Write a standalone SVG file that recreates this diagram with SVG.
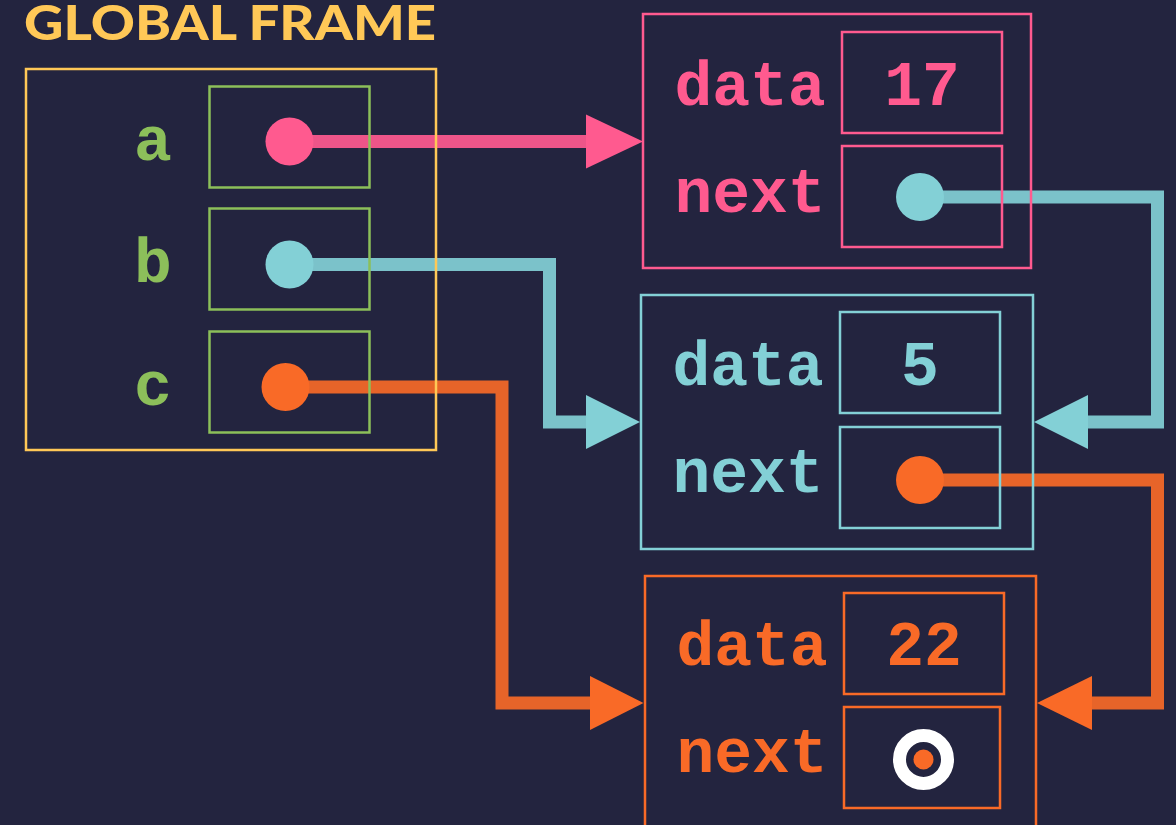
<svg xmlns="http://www.w3.org/2000/svg" width="1176" height="825" viewBox="0 0 1176 825">
<style>
.mono{font-family:"Liberation Mono","Courier New",monospace;font-weight:bold;font-size:63px}
.box{fill:none;stroke-width:2.5}
.wire{fill:none;stroke-width:13;stroke-linejoin:miter;stroke-linecap:butt;opacity:0.92}
</style>
<rect x="0" y="0" width="1176" height="825" fill="#23243F"/>
<g id="connectors">
  <g fill="#FF5A8F" stroke="#FF5A8F">
    <path class="wire" d="M289 141.5 H588"/>
    <polygon points="586,114.5 643,141.5 586,168.5" stroke="none"/>
  </g>
  <g fill="#83D0D6" stroke="#83D0D6">
    <path class="wire" d="M289 264.5 H549.5 V422 H588"/>
    <polygon points="586,395 640,422 586,449" stroke="none"/>
    <path class="wire" d="M920 197 H1157.5 V422 H1086"/>
    <polygon points="1088,395 1034,422 1088,449" stroke="none"/>
  </g>
  <g fill="#F96A27" stroke="#F96A27">
    <path class="wire" d="M285.5 387 H502 V703 H592"/>
    <polygon points="590,676 643.5,703 590,730" stroke="none"/>
    <path class="wire" d="M920 480 H1157.5 V703 H1090"/>
    <polygon points="1092,676 1037,703 1092,730" stroke="none"/>
  </g>
</g>
<g id="global-frame">
  <text x="24" y="40" font-family="Lato,'Open Sans',sans-serif" font-weight="900" font-size="48" fill="#FFC857" textLength="412" lengthAdjust="spacingAndGlyphs">GLOBAL FRAME</text>
  <rect class="box" x="26" y="69" width="410" height="381" stroke="#FFC857"/>
</g>
<g id="var-a">
  <text class="mono" x="153" y="160" text-anchor="middle" fill="#8CBF5A">a</text>
  <rect class="box" x="209.5" y="86.5" width="160" height="101" stroke="#8CBF5A"/>
  <circle cx="289.5" cy="141.5" r="24" fill="#FF5A8F"/>
</g>
<g id="var-b">
  <text class="mono" x="153" y="282" text-anchor="middle" fill="#8CBF5A">b</text>
  <rect class="box" x="209.5" y="208.5" width="160" height="101" stroke="#8CBF5A"/>
  <circle cx="289.5" cy="264.5" r="24" fill="#83D0D6"/>
</g>
<g id="var-c">
  <text class="mono" x="153" y="405" text-anchor="middle" fill="#8CBF5A">c</text>
  <rect class="box" x="209.5" y="331.5" width="160" height="101" stroke="#8CBF5A"/>
  <circle cx="285.5" cy="387" r="24" fill="#F96A27"/>
</g>
<g id="node-17">
  <rect class="box" x="643" y="14" width="388" height="254" stroke="#FF5A8F"/>
  <text class="mono" x="750" y="105" text-anchor="middle" fill="#FF5A8F">data</text>
  <text class="mono" x="750" y="212" text-anchor="middle" fill="#FF5A8F">next</text>
  <rect class="box" x="842" y="32" width="160" height="101" stroke="#FF5A8F"/>
  <text class="mono" x="922" y="105" text-anchor="middle" fill="#FF5A8F">17</text>
  <rect class="box" x="842" y="146" width="160" height="101" stroke="#FF5A8F"/>
  <circle cx="920" cy="197" r="24" fill="#83D0D6"/>
</g>
<g id="node-5">
  <rect class="box" x="641" y="295" width="392" height="254" stroke="#83D0D6"/>
  <text class="mono" x="748" y="385" text-anchor="middle" fill="#83D0D6">data</text>
  <text class="mono" x="748" y="492" text-anchor="middle" fill="#83D0D6">next</text>
  <rect class="box" x="840" y="312" width="160" height="101" stroke="#83D0D6"/>
  <text class="mono" x="920" y="385" text-anchor="middle" fill="#83D0D6">5</text>
  <rect class="box" x="840" y="427" width="160" height="101" stroke="#83D0D6"/>
  <circle cx="920" cy="480" r="24" fill="#F96A27"/>
</g>
<g id="node-22">
  <rect class="box" x="645" y="576" width="391" height="260" stroke="#F96A27"/>
  <text class="mono" x="752" y="665" text-anchor="middle" fill="#F96A27">data</text>
  <text class="mono" x="752" y="772" text-anchor="middle" fill="#F96A27">next</text>
  <rect class="box" x="844" y="593" width="160" height="101" stroke="#F96A27"/>
  <text class="mono" x="924" y="665" text-anchor="middle" fill="#F96A27">22</text>
  <rect class="box" x="844" y="707" width="156" height="101" stroke="#F96A27"/>
  <circle cx="923.5" cy="759.5" r="24" fill="none" stroke="#FFFFFF" stroke-width="13"/>
  <circle cx="923.5" cy="759.5" r="10" fill="#F96A27"/>
</g>
</svg>
